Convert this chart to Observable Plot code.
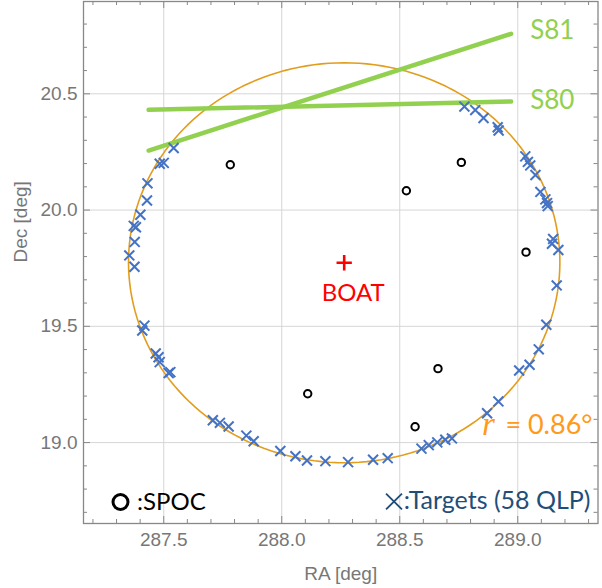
<!DOCTYPE html>
<html><head><meta charset="utf-8">
<script src="https://cdn.jsdelivr.net/npm/d3@7"></script>
<script src="https://cdn.jsdelivr.net/npm/@observablehq/plot@0.6"></script>
<style>body{margin:0;background:#fff} svg{display:block}</style>
</head><body><div id="chart"></div>
<script>
// ---- data ----
const targetRA = [287.542, 287.500, 287.483, 287.431, 287.429, 287.401, 287.373, 287.382, 287.377, 287.354, 287.376,
  287.418, 287.409, 287.466, 287.478, 287.483, 287.521, 287.528,
  287.708, 287.738, 287.775, 287.850, 287.881, 287.994, 288.058,
  288.107, 288.185, 288.281, 288.387, 288.449,
  288.592, 288.623, 288.659, 288.693, 288.721,
  288.870, 288.918, 289.006, 289.050, 289.089, 289.121, 289.165,
  289.150, 289.145, 289.172,
  288.774, 288.820, 288.855, 288.915, 288.919, 289.032, 289.043, 289.053, 289.075, 289.096, 289.117, 289.124, 289.127];
const targetDec = [20.267, 20.203, 20.199, 20.115, 20.041, 19.980, 19.932, 19.926, 19.863, 19.805, 19.756,
  19.503, 19.482, 19.383, 19.367, 19.346, 19.299, 19.303,
  19.096, 19.085, 19.069, 19.030, 19.006, 18.964, 18.941,
  18.923, 18.920, 18.916, 18.926, 18.933,
  18.974, 18.989, 19.001, 19.012, 19.018,
  19.126, 19.177, 19.310, 19.335, 19.401, 19.507, 19.676,
  19.876, 19.855, 19.828,
  20.445, 20.430, 20.396, 20.356, 20.342, 20.231, 20.207, 20.192, 20.151, 20.078, 20.046, 20.030, 20.017];
const spocRA  = [287.782, 288.761, 288.528, 289.035, 288.110, 288.662, 288.565];
const spocDec = [20.195, 20.205, 20.083, 19.819, 19.210, 19.318, 19.068];
const boatRA = 288.2646, boatDec = 19.7733, radiusDeg = 0.86;
const s80RA = [287.436, 288.972], s80Dec = [20.431, 20.467];
const s81RA = [287.436, 288.972], s81Dec = [20.256, 20.758];
const raTicks = [287.5, 288.0, 288.5, 289.0];
const decTicks = [19.0, 19.5, 20.0, 20.5];
const raMinor = [287.2, 287.3, 287.4, 287.6, 287.7, 287.8, 287.9, 288.1, 288.2, 288.3, 288.4, 288.6, 288.7, 288.8, 288.9, 289.1, 289.2, 289.3];
const decMinor = [18.7, 18.8, 18.9, 19.1, 19.2, 19.3, 19.4, 19.6, 19.7, 19.8, 19.9, 20.1, 20.2, 20.3, 20.4, 20.6, 20.7, 20.8];

// ---- derived ----
const targets = targetRA.map((ra, i) => ({ra, dec: targetDec[i]}));
const spoc = spocRA.map((ra, i) => ({ra, dec: spocDec[i]}));
const s80 = s80RA.map((ra, i) => ({ra, dec: s80Dec[i]}));
const s81 = s81RA.map((ra, i) => ({ra, dec: s81Dec[i]}));
const rad = Math.PI / 180;
// small circle of angular radius r around BOAT on the sky
const circle = d3.range(0, 361, 2).map(t => {
  const th = t * rad, r = radiusDeg * rad, d0 = boatDec * rad;
  const sd = Math.sin(d0) * Math.cos(r) + Math.cos(d0) * Math.sin(r) * Math.cos(th);
  const dec = Math.asin(sd);
  const dra = Math.atan2(Math.sin(th) * Math.sin(r) * Math.cos(d0), Math.cos(r) - Math.sin(d0) * sd);
  return {ra: boatRA + dra / rad, dec: dec / rad};
});

const W = 602, H = 588, mL = 83, mR = 4.5, mT = 1, mB = 65;
const innerH = H - mT - mB, innerW = W - mL - mR;
const gray = "#777";
const lato = "Lato, 'Noto Sans', sans-serif";

const chart = Plot.plot({
  width: W, height: H,
  marginLeft: mL, marginRight: mR, marginTop: mT, marginBottom: mB,
  x: {domain: [287.16, 289.34]},
  y: {domain: [18.652, 20.897]},
  style: {fontFamily: "'Liberation Sans', Arial, sans-serif", background: "white"},
  marks: [
    Plot.ruleX(raTicks, {stroke: "#d6d6d6", strokeWidth: 1}),
    Plot.ruleY(decTicks, {stroke: "#d6d6d6", strokeWidth: 1}),
    Plot.line(circle, {x: "ra", y: "dec", stroke: "#e39d1c", strokeWidth: 1.6}),
    Plot.line(s80, {x: "ra", y: "dec", stroke: "#92d050", strokeWidth: 4.5}),
    Plot.line(s81, {x: "ra", y: "dec", stroke: "#92d050", strokeWidth: 4.5}),
    Plot.dot(targets, {x: "ra", y: "dec", symbol: "times", r: 4.6, stroke: "#4472c4", strokeWidth: 2}),
    Plot.dot(spoc, {x: "ra", y: "dec", r: 3.7, stroke: "black", strokeWidth: 2, fill: "none"}),
    Plot.dot([{ra: boatRA, dec: boatDec}], {x: "ra", y: "dec", symbol: "plus", r: 5, stroke: "red", strokeWidth: 2.6}),
    Plot.text([{ra: boatRA, dec: boatDec}], {x: "ra", y: "dec", text: () => "BOAT", dx: 9, dy: 31, fill: "red", fontSize: 24, fontFamily: lato}),
    Plot.text([s81[1]], {x: "ra", y: "dec", text: () => "S81", dx: 19, dy: -3, textAnchor: "start", fill: "#92d050", fontSize: 26, fontFamily: lato}),
    Plot.text([s80[1]], {x: "ra", y: "dec", text: () => "S80", dx: 19, dy: -1, textAnchor: "start", fill: "#92d050", fontSize: 26, fontFamily: lato}),
    Plot.text([0], {frameAnchor: "bottom-right", lineAnchor: "middle", text: () => "r", dx: -116, dy: -99, textAnchor: "start", fill: "#ff9a1a", fontSize: 33, fontStyle: "italic", fontFamily: "'Liberation Serif', 'DejaVu Serif', serif"}),
    Plot.text([0], {frameAnchor: "bottom-right", lineAnchor: "middle", text: () => "= 0.86°", dx: -5.5, dy: -98, textAnchor: "end", fill: "#ff9a1a", fontSize: 27, fontFamily: lato}),
    Plot.dot([0], {frameAnchor: "bottom-left", dx: 37, dy: -21.5, r: 7.5, stroke: "black", strokeWidth: 3, fill: "none"}),
    Plot.text([0], {frameAnchor: "bottom-left", lineAnchor: "middle", text: () => ":SPOC", dx: 53.5, dy: -21.5, textAnchor: "start", fill: "black", fontSize: 24, fontFamily: lato}),
    Plot.dot([0], {frameAnchor: "bottom-right", symbol: "times", r: 7.3, dx: -204, dy: -22, stroke: "#1f4e79", strokeWidth: 1.8}),
    Plot.text([0], {frameAnchor: "bottom-right", lineAnchor: "middle", text: () => ":Targets (58 QLP)", dx: -7.5, dy: -22.5, textAnchor: "end", fill: "#1f4e79", fontSize: 25, fontFamily: lato}),
    // ticks (inward, on all four sides)
    Plot.ruleX(raMinor, {stroke: "#888", insetTop: innerH - 4}),
    Plot.ruleX(raMinor, {stroke: "#888", insetBottom: innerH - 4}),
    Plot.ruleY(decMinor, {stroke: "#888", insetRight: innerW - 4}),
    Plot.ruleY(decMinor, {stroke: "#888", insetLeft: innerW - 4}),
    Plot.ruleX(raTicks, {stroke: "#888", insetTop: innerH - 7}),
    Plot.ruleX(raTicks, {stroke: "#888", insetBottom: innerH - 7}),
    Plot.ruleY(decTicks, {stroke: "#888", insetRight: innerW - 7}),
    Plot.ruleY(decTicks, {stroke: "#888", insetLeft: innerW - 7}),
    Plot.frame({stroke: "#888", strokeWidth: 1.3}),
    Plot.axisX(raTicks, {anchor: "bottom", tickSize: 0, tickPadding: 9, tickFormat: d3.format(".1f"), fontSize: 19, color: gray, label: null}),
    Plot.axisY(decTicks, {anchor: "left", tickSize: 0, tickPadding: 6, tickFormat: d3.format(".1f"), fontSize: 19, color: gray, label: null}),
    Plot.text([0], {frameAnchor: "bottom", lineAnchor: "middle", text: () => "RA [deg]", dy: 50, fontSize: 19, fill: gray}),
    Plot.text([0], {frameAnchor: "left", text: () => "Dec [deg]", dx: -63, rotate: -90, fontSize: 19, fill: gray})
  ]
});
document.getElementById("chart").appendChild(chart);
</script>
</body></html>
